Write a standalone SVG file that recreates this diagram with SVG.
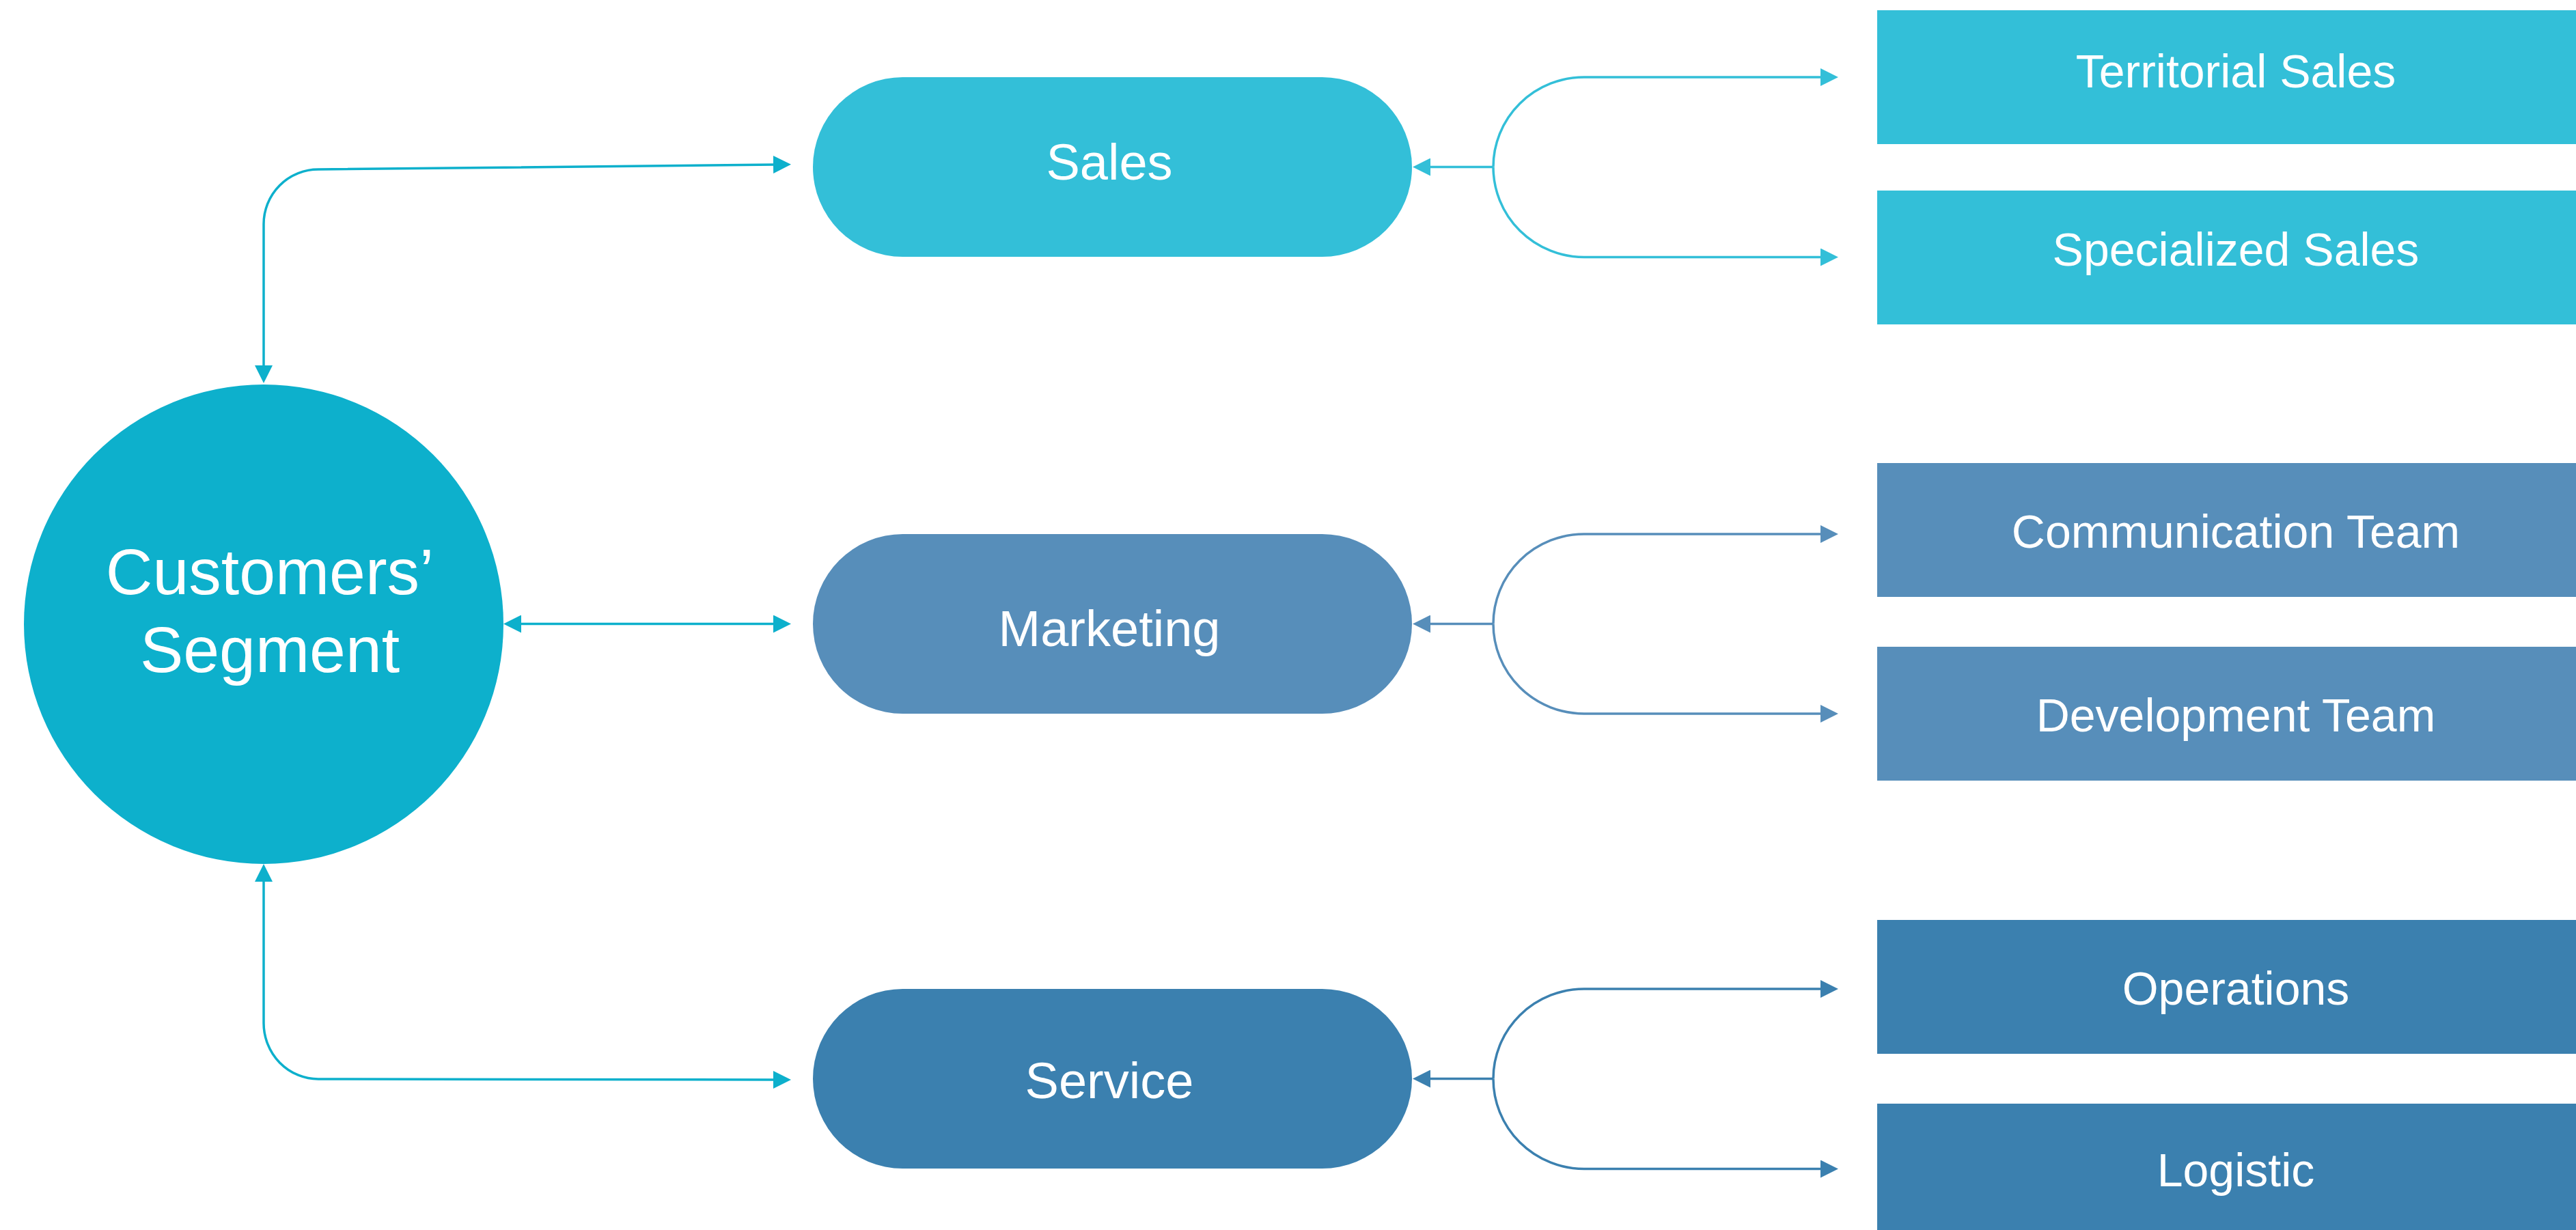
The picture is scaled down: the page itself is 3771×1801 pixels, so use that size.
<svg xmlns="http://www.w3.org/2000/svg" width="3771" height="1801" viewBox="0 0 3771 1801">
<style>
  .lbl { font-family: "Liberation Sans", Arial, sans-serif; fill: #ffffff; text-anchor: middle; }
  .big { font-size: 95px; }
  .mid { font-size: 74px; }
  .sm { font-size: 68px; }
  .c-teal { fill: #0DB0CC; }
  .c-sales { fill: #33BFD8; }
  .c-mkt { fill: #578EBA; }
  .c-svc { fill: #3B80AF; }
  .ln { fill: none; stroke-width: 3.5; }
  .ln-teal { stroke: #0DB0CC; }
  .ln-sales { stroke: #33BFD8; }
  .ln-mkt { stroke: #578EBA; }
  .ln-svc { stroke: #3B80AF; }
</style>
<defs>
  <marker id="a-teal" viewBox="0 0 26 26" markerWidth="26" markerHeight="26" markerUnits="userSpaceOnUse" refX="3" refY="13" orient="auto-start-reverse"><path d="M0,0 L26,13 L0,26 z" fill="#0DB0CC"/></marker>
  <marker id="a-sales" viewBox="0 0 26 26" markerWidth="26" markerHeight="26" markerUnits="userSpaceOnUse" refX="3" refY="13" orient="auto-start-reverse"><path d="M0,0 L26,13 L0,26 z" fill="#33BFD8"/></marker>
  <marker id="a-mkt" viewBox="0 0 26 26" markerWidth="26" markerHeight="26" markerUnits="userSpaceOnUse" refX="3" refY="13" orient="auto-start-reverse"><path d="M0,0 L26,13 L0,26 z" fill="#578EBA"/></marker>
  <marker id="a-svc" viewBox="0 0 26 26" markerWidth="26" markerHeight="26" markerUnits="userSpaceOnUse" refX="3" refY="13" orient="auto-start-reverse"><path d="M0,0 L26,13 L0,26 z" fill="#3B80AF"/></marker>
</defs>
<rect width="3771" height="1801" fill="#ffffff"/>

<g id="connectors">
  <path class="ln ln-teal" d="M386,538 L386,328 A80,80 0 0 1 466,248 L1135,241" marker-start="url(#a-teal)" marker-end="url(#a-teal)"/>
  <path class="ln ln-teal" d="M760,913.5 L1135,913.5" marker-start="url(#a-teal)" marker-end="url(#a-teal)"/>
  <path class="ln ln-teal" d="M386,1288 L386,1498 A80,82 0 0 0 466,1580 L1135,1581" marker-start="url(#a-teal)" marker-end="url(#a-teal)"/>

  <path class="ln ln-sales" d="M2186,244.5 L2091,244.5" marker-end="url(#a-sales)"/>
  <path class="ln ln-sales" d="M2186,244.5 A133,131.5 0 0 1 2319,113 L2668,113" marker-end="url(#a-sales)"/>
  <path class="ln ln-sales" d="M2186,244.5 A133,132 0 0 0 2319,376.5 L2668,376.5" marker-end="url(#a-sales)"/>

  <path class="ln ln-mkt" d="M2186,913.5 L2091,913.5" marker-end="url(#a-mkt)"/>
  <path class="ln ln-mkt" d="M2186,913.5 A133,131.5 0 0 1 2319,782 L2668,782" marker-end="url(#a-mkt)"/>
  <path class="ln ln-mkt" d="M2186,913.5 A133,131.5 0 0 0 2319,1045 L2668,1045" marker-end="url(#a-mkt)"/>

  <path class="ln ln-svc" d="M2186,1579.5 L2091,1579.5" marker-end="url(#a-svc)"/>
  <path class="ln ln-svc" d="M2186,1579.5 A133,131.5 0 0 1 2319,1448 L2668,1448" marker-end="url(#a-svc)"/>
  <path class="ln ln-svc" d="M2186,1579.5 A133,132 0 0 0 2319,1711.5 L2668,1711.5" marker-end="url(#a-svc)"/>
</g>

<g id="customers-segment">
  <circle class="c-teal" cx="386" cy="914" r="351"/>
  <text class="lbl big" x="395" y="870">Customers’</text>
  <text class="lbl big" x="395" y="984">Segment</text>
</g>

<g id="sales">
  <rect class="c-sales" x="1190" y="113" width="877" height="263" rx="131.5" ry="131.5"/>
  <text class="lbl mid" x="1624" y="263">Sales</text>
</g>
<g id="marketing">
  <rect class="c-mkt" x="1190" y="782" width="877" height="263" rx="131.5" ry="131.5"/>
  <text class="lbl mid" x="1624" y="946">Marketing</text>
</g>
<g id="service">
  <rect class="c-svc" x="1190" y="1448" width="877" height="263" rx="131.5" ry="131.5"/>
  <text class="lbl mid" x="1624" y="1608">Service</text>
</g>

<g id="territorial-sales">
  <rect class="c-sales" x="2748" y="15" width="1050" height="196"/>
  <text class="lbl sm" x="3273" y="128">Territorial Sales</text>
</g>
<g id="specialized-sales">
  <rect class="c-sales" x="2748" y="279" width="1050" height="196"/>
  <text class="lbl sm" x="3273" y="389">Specialized Sales</text>
</g>
<g id="communication-team">
  <rect class="c-mkt" x="2748" y="678" width="1050" height="196"/>
  <text class="lbl sm" x="3273" y="802">Communication Team</text>
</g>
<g id="development-team">
  <rect class="c-mkt" x="2748" y="947" width="1050" height="196"/>
  <text class="lbl sm" x="3273" y="1071">Development Team</text>
</g>
<g id="operations">
  <rect class="c-svc" x="2748" y="1347" width="1050" height="196"/>
  <text class="lbl sm" x="3273" y="1471">Operations</text>
</g>
<g id="logistic">
  <rect class="c-svc" x="2748" y="1616" width="1050" height="196"/>
  <text class="lbl sm" x="3273" y="1737">Logistic</text>
</g>
</svg>
